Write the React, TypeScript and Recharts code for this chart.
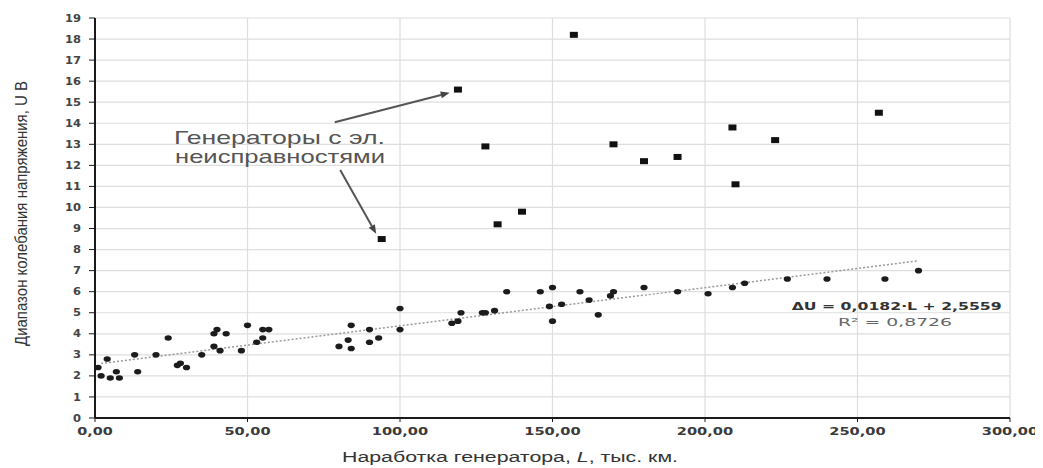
import { ScatterChart, Scatter, XAxis, YAxis, CartesianGrid, ReferenceLine } from 'recharts';

// Ordinary generators: operating time L (thousand km) and voltage swing U (V)
const NORMAL_L = [1, 2, 4, 5, 7, 8, 13, 14, 20, 24, 27, 28, 30, 35, 39, 39, 40, 41, 43, 48, 50, 53, 55, 55, 57, 80, 83, 84, 84, 90, 90, 93, 100, 100, 117, 119, 120, 127, 128, 131, 135, 146, 150, 149, 150, 153, 159, 162, 165, 169, 170, 180, 191, 201, 209, 213, 227, 240, 259, 270];
const NORMAL_U = [2.4, 2.0, 2.8, 1.9, 2.2, 1.9, 3.0, 2.2, 3.0, 3.8, 2.5, 2.6, 2.4, 3.0, 3.4, 4.0, 4.2, 3.2, 4.0, 3.2, 4.4, 3.6, 3.8, 4.2, 4.2, 3.4, 3.7, 4.4, 3.3, 4.2, 3.6, 3.8, 5.2, 4.2, 4.5, 4.6, 5.0, 5.0, 5.0, 5.1, 6.0, 6.0, 6.2, 5.3, 4.6, 5.4, 6.0, 5.6, 4.9, 5.8, 6.0, 6.2, 6.0, 5.9, 6.2, 6.4, 6.6, 6.6, 6.6, 7.0];

// Generators with electrical faults
const FAULT_L = [94, 119, 128, 132, 140, 157, 170, 180, 191, 209, 210, 223, 257];
const FAULT_U = [8.5, 15.6, 12.9, 9.2, 9.8, 18.2, 13.0, 12.2, 12.4, 13.8, 11.1, 13.2, 14.5];

const X_TICKS = [0, 50, 100, 150, 200, 250, 300];
const Y_TICKS = [0, 1, 2, 3, 4, 5, 6, 7, 8, 9, 10, 11, 12, 13, 14, 15, 16, 17, 18, 19];

// trend line from the equation printed on the chart
const TREND_SLOPE = 0.0182;
const TREND_INTERCEPT = 2.5559;
const TREND_FROM = 2;
const TREND_TO = 270;

const normalData = NORMAL_L.map((l, i) => ({ l, u: NORMAL_U[i] }));
const faultData = FAULT_L.map((l, i) => ({ l, u: FAULT_U[i] }));

const W = 1035;
const H = 460;
const TICK_FONT = '"DejaVu Sans", Verdana, sans-serif';
const LABEL_FONT = '"Liberation Sans", Arial, sans-serif';

function XTick({ x, y, payload }: any) {
  const s = Number(payload.value).toFixed(2).replace('.', ',');
  return (
    <text
      x={x}
      y={y + 11}
      textAnchor="middle"
      textLength={(s.length - 1) * 10.5 + 4}
      lengthAdjust="spacingAndGlyphs"
      fontFamily={TICK_FONT}
      fontWeight="bold"
      fontSize={11}
      fill="#3a3a3a"
    >
      {s}
    </text>
  );
}

function YTick({ x, y, payload }: any) {
  const s = String(payload.value);
  return (
    <text
      x={x}
      y={y}
      dy="0.36em"
      textAnchor="end"
      textLength={s.length * 8}
      lengthAdjust="spacingAndGlyphs"
      fontFamily={TICK_FONT}
      fontWeight="bold"
      fontSize={10}
      fill="#444"
    >
      {s}
    </text>
  );
}

function Dot({ cx, cy }: any) {
  return <ellipse cx={cx} cy={cy} rx={3.6} ry={2.8} fill="#1c1c1c" />;
}

function Square({ cx, cy }: any) {
  return <rect x={cx - 4} y={cy - 3} width={8} height={6} fill="#111" />;
}

function Arrow(props: any) {
  const { x1, y1, x2, y2 } = props;
  const a = Math.atan2(y2 - y1, x2 - x1);
  const len = 9;
  const wid = 3.5;
  const bx = x2 - len * Math.cos(a);
  const by = y2 - len * Math.sin(a);
  const px = -Math.sin(a) * wid;
  const py = Math.cos(a) * wid;
  return (
    <g>
      <line x1={x1} y1={y1} x2={bx} y2={by} stroke="#555" strokeWidth={2} />
      <polygon points={`${x2},${y2} ${bx + px},${by + py} ${bx - px},${by - py}`} fill="#444" />
    </g>
  );
}

export default function App() {
  return (
    <div style={{ position: 'relative', width: W, height: H }}>
      <ScatterChart width={W} height={H} margin={{ top: 10, right: 33, bottom: 0, left: 0 }}>
        <CartesianGrid stroke="#dedede" strokeWidth={1.2} />
        <XAxis
          type="number"
          dataKey="l"
          domain={[0, 300]}
          ticks={X_TICKS}
          interval={0}
          height={50}
          tickSize={4}
          axisLine={{ stroke: '#1a1a1a', strokeWidth: 2 }}
          tickLine={{ stroke: '#1a1a1a' }}
          tick={<XTick />}
        />
        <YAxis
          type="number"
          dataKey="u"
          domain={[0, 19]}
          ticks={Y_TICKS}
          interval={0}
          width={87}
          tickSize={6}
          tickMargin={8}
          axisLine={{ stroke: '#1a1a1a', strokeWidth: 2 }}
          tickLine={{ stroke: '#1a1a1a' }}
          tick={<YTick />}
        />
        <ReferenceLine
          segment={[
            { x: TREND_FROM, y: TREND_SLOPE * TREND_FROM + TREND_INTERCEPT },
            { x: TREND_TO, y: TREND_SLOPE * TREND_TO + TREND_INTERCEPT },
          ]}
          stroke="#9a9a9a"
          strokeWidth={1.5}
          strokeDasharray="2 2"
        />
        <Scatter data={normalData} shape={<Dot />} isAnimationActive={false} />
        <Scatter data={faultData} shape={<Square />} isAnimationActive={false} />
        <ReferenceLine
          segment={[{ x: 78.6, y: 14.05 }, { x: 116.3, y: 15.45 }]}
          shape={Arrow}
        />
        <ReferenceLine
          segment={[{ x: 80.4, y: 11.78 }, { x: 92.2, y: 8.75 }]}
          shape={Arrow}
        />
      </ScatterChart>
      <svg
        width={W}
        height={H}
        style={{ position: 'absolute', left: 0, top: 0, pointerEvents: 'none' }}
      >
        <text
          x={18.5}
          y={338}
          transform="rotate(-90 18.5 338)"
          textLength={265}
          lengthAdjust="spacingAndGlyphs"
          fontFamily={LABEL_FONT}
          fontSize={17}
          fill="#333"
        >
          Диапазон колебания напряжения,  U В
        </text>
        <text
          x={334}
          y={454}
          textLength={336}
          lengthAdjust="spacingAndGlyphs"
          fontFamily={LABEL_FONT}
          fontSize={14}
          fill="#333"
        >
          Наработка генератора, <tspan fontStyle="italic">L</tspan>, тыс. км.
        </text>
        <text x={166} y={136} textLength={211} lengthAdjust="spacingAndGlyphs" fontFamily={LABEL_FONT} fontSize={19} fill="#555">
          Генераторы с эл.
        </text>
        <text x={167} y={155} textLength={210} lengthAdjust="spacingAndGlyphs" fontFamily={LABEL_FONT} fontSize={19} fill="#555">
          неисправностями
        </text>
        <text x={783.7} y={302} textLength={210} lengthAdjust="spacingAndGlyphs" fontFamily={TICK_FONT} fontWeight="bold" fontSize={11} fill="#333">
          ΔU = 0,0182·L + 2,5559
        </text>
        <text x={830} y={317.5} textLength={114} lengthAdjust="spacingAndGlyphs" fontFamily={TICK_FONT} fontSize={11} fill="#666">
          R² = 0,8726
        </text>
      </svg>
    </div>
  );
}
